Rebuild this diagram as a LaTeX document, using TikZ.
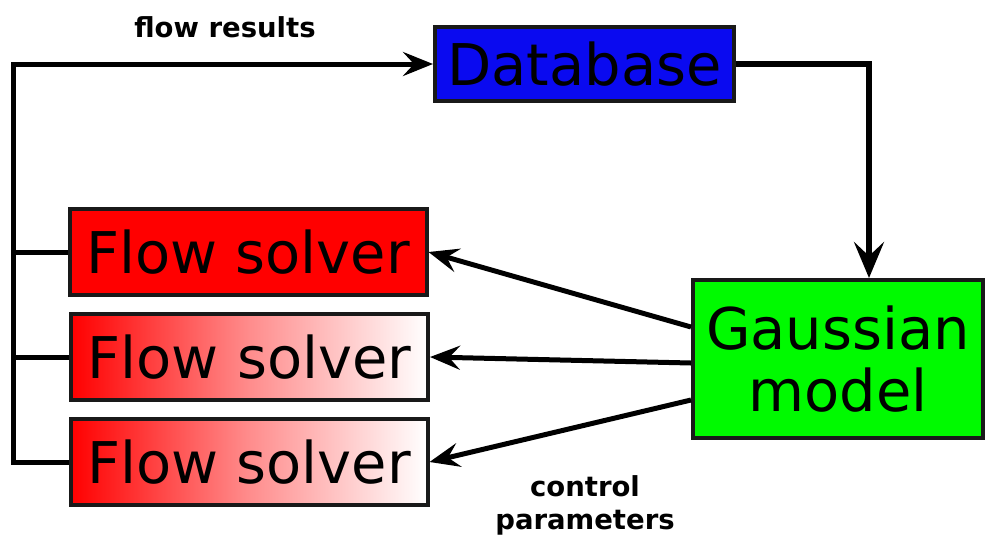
\documentclass[tikz,border=0pt]{standalone}
\usepackage{fontspec}
\setmainfont{DejaVu Sans}
\usetikzlibrary{arrows.meta,calc}
\definecolor{dbblue}{RGB}{10,10,240}
\definecolor{gmgreen}{RGB}{0,250,0}
\definecolor{fsred}{RGB}{255,0,0}
\tikzset{
  box/.style={draw=black!90, line width=4pt, rectangle, inner sep=0pt,
    font=\fontsize{57.5}{62}\selectfont, align=center},
  solverbox/.style={box, minimum width=357pt, minimum height=86pt},
  gradsolver/.style={solverbox, left color=fsred, right color=white, middle color=fsred!45},
  wire/.style={line width=5pt, black, line join=miter},
  bigarrow/.style={line width=5.5pt, black, line join=miter, -{Stealth[length=36pt,width=30pt,inset=14pt]}},
  arrowto/.style={line width=5pt, black, line join=miter, -{Stealth[length=30pt,width=24pt,inset=11pt]}},
  lbl/.style={font=\bfseries\fontsize{27.5}{33}\selectfont, align=center, inner sep=0pt}
}
\begin{document}
\begin{tikzpicture}[x=1pt,y=-1pt]
\useasboundingbox (0,0) rectangle (987,544);
% nodes
\node[box, fill=dbblue, minimum width=299pt, minimum height=74pt] (db) at (584.5,64) {Database};
\node[solverbox, fill=fsred] (s1) at (248,252) {Flow solver};
\node[gradsolver] (s2) at (249.5,357) {Flow solver};
\node[gradsolver] (s3) at (249,462) {Flow solver};
\node[box, fill=gmgreen, minimum width=290pt, minimum height=158pt] (gm) at (838,359) {Gaussian\\model};
% labels
\node[lbl] (fr) at (225,27) {flow results};
\node[lbl] (cp) at (585,505) {control\\parameters};
% bus from solvers to database
\coordinate (tl) at (13,64);
\draw[wire] (s1.west) -- (s1.west -| tl);
\draw[wire] (s2.west) -- (s2.west -| tl);
\draw[arrowto] (s3.west) -| (tl) -- (db.west);
% database to gaussian model
\coordinate (turn) at (869,64);
\draw[bigarrow] (db.east) -- (turn) -- (turn |- gm.north);
% gaussian model to solvers
\draw[arrowto] ($(gm.west)+(0,-32)$) -- (s1.east);
\draw[arrowto] ($(gm.west)+(0,4)$) -- (s2.east);
\draw[arrowto] ($(gm.west)+(0,41)$) -- (s3.east);
\end{tikzpicture}
\end{document}
